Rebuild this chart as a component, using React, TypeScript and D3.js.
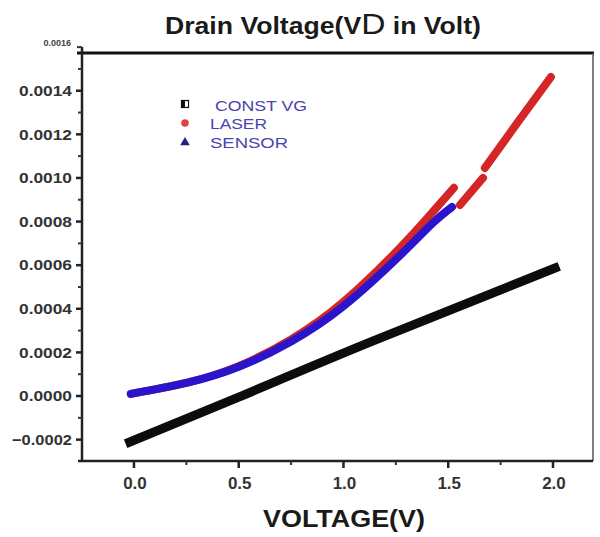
import React from "react";
import * as d3 from "d3";

// ---- data ----
const constVgX = [-0.02, 0.5, 1.13, 2.01];
const constVgY = [-0.000211, -0.000005, 0.000248, 0.000587];

const laserSeg1X = [-0.015, 0.25, 0.5, 0.75, 1.0, 1.27, 1.427, 1.527];
const laserSeg1Y = [0.00001, 0.00006, 0.000137, 0.00026, 0.000432, 0.00068, 0.000845, 0.000955];
const laserSeg2X = [1.556, 1.666];
const laserSeg2Y = [0.000876, 0.001];
const laserSeg3X = [1.675, 1.828, 1.99];
const laserSeg3Y = [0.001046, 0.00125, 0.001463];

const sensorX = [-0.015, 0.25, 0.5, 0.75, 1.0, 1.27, 1.427, 1.518];
const sensorY = [0.00001, 0.00006, 0.000134, 0.00025, 0.000412, 0.000645, 0.000794, 0.000867];

const xMajor = [0, 0.5, 1.0, 1.5, 2.0];
const xMinor = [0.25, 0.75, 1.25, 1.75];
const yMajor = [-0.0002, 0, 0.0002, 0.0004, 0.0006, 0.0008, 0.001, 0.0012, 0.0014];
const yMinor = [-0.0001, 0.0001, 0.0003, 0.0005, 0.0007, 0.0009, 0.0011, 0.0013, 0.0015];
const yTopTick = 0.0016;

const legendLabels = ["CONST VG", "LASER", "SENSOR"];
const titleParts = ["Drain Voltage(V", "D", " in Volt)"];
const xTitle = "VOLTAGE(V)";

const FONT = "'Liberation Sans', Arial, sans-serif";

export default function App() {
  const W = 600, H = 537;
  const left = 82, right = 593, top = 53, bottom = 461;
  const x = d3.scaleLinear().domain([-0.248, 2.191]).range([left, right]);
  const y = d3.scaleLinear().domain([-0.000298, 0.001573]).range([bottom, top]);

  const toPts = (xs: number[], ys: number[]) => xs.map((v, i) => [v, ys[i]] as [number, number]);
  const line = d3
    .line<[number, number]>()
    .x((d) => x(d[0]))
    .y((d) => y(d[1]))
    .curve(d3.curveNatural);

  const fy = d3.format(".4f");
  const fx = d3.format(".1f");

  const red = "#d42626";
  const blue = "#2a14cc";
  const black = "#0c0c0c";

  return (
    <svg
      width={W}
      height={H}
      style={{ position: "absolute", left: 0, top: 0, background: "#fff" }}
      fontFamily={FONT}
    >
      <rect x={0} y={0} width={W} height={H} fill="#fff" />

      {/* title */}
      <text x={165} y={34} fill="#1a1a1a" textLength={316} lengthAdjust="spacingAndGlyphs">
        <tspan fontWeight="bold" fontSize={23}>{titleParts[0]}</tspan>
        <tspan fontSize={29}>{titleParts[1]}</tspan>
        <tspan fontWeight="bold" fontSize={23}>{titleParts[2]}</tspan>
      </text>

      {/* data */}
      <g fill="none">
        <path d={line(toPts(constVgX, constVgY)) || ""} stroke={black} strokeWidth={9} strokeLinecap="square" />
        <path d={line(toPts(laserSeg1X, laserSeg1Y)) || ""} stroke={red} strokeWidth={8} strokeLinecap="round" />
        <path d={line(toPts(laserSeg2X, laserSeg2Y)) || ""} stroke={red} strokeWidth={8} strokeLinecap="round" />
        <path d={line(toPts(laserSeg3X, laserSeg3Y)) || ""} stroke={red} strokeWidth={8} strokeLinecap="round" />
        <path d={line(toPts(sensorX, sensorY)) || ""} stroke={blue} strokeWidth={8} strokeLinecap="round" />
      </g>

      {/* frame */}
      <line x1={77} x2={594} y1={top} y2={top} stroke="#111" strokeWidth={3} />
      <line x1={right} x2={right} y1={top} y2={bottom} stroke="#555" strokeWidth={1.5} />
      <line x1={left} x2={left} y1={y(yTopTick)} y2={bottom + 1} stroke="#222" strokeWidth={2.5} />
      <line x1={78} x2={right} y1={bottom} y2={bottom} stroke="#222" strokeWidth={2.5} />

      {/* y ticks */}
      {yMajor.map((v) => (
        <g key={"ym" + v}>
          <line x1={left - 6} x2={left} y1={y(v)} y2={y(v)} stroke="#222" strokeWidth={2.5} />
          <text
            x={72}
            y={y(v)}
            dy="0.35em"
            textAnchor="end"
            fontSize={15}
            fontWeight="bold"
            fill="#333"
            textLength={fy(v).length > 6 ? 60 : 53}
            lengthAdjust="spacingAndGlyphs"
          >
            {fy(v)}
          </text>
        </g>
      ))}
      {yMinor.map((v) => (
        <line key={"yn" + v} x1={left - 4} x2={left} y1={y(v)} y2={y(v)} stroke="#333" strokeWidth={2} />
      ))}
      <line x1={left - 5} x2={left} y1={y(yTopTick)} y2={y(yTopTick)} stroke="#333" strokeWidth={2} />
      <text x={71} y={y(yTopTick) - 1} textAnchor="end" fontSize={9} fontWeight="bold" fill="#444">
        {fy(yTopTick)}
      </text>

      {/* x ticks */}
      {xMajor.map((v) => (
        <g key={"xm" + v}>
          <line x1={x(v)} x2={x(v)} y1={bottom} y2={bottom + 7} stroke="#222" strokeWidth={2.5} />
          <text x={x(v) + 1} y={489} textAnchor="middle" fontSize={17} fontWeight="bold" fill="#333">
            {fx(v)}
          </text>
        </g>
      ))}
      {xMinor.map((v) => (
        <line key={"xn" + v} x1={x(v)} x2={x(v)} y1={bottom} y2={bottom + 4} stroke="#333" strokeWidth={2} />
      ))}

      {/* x title */}
      <text
        x={263}
        y={527}
        fontSize={24}
        fontWeight="bold"
        fill="#1a1a1a"
        textLength={162}
        lengthAdjust="spacingAndGlyphs"
      >
        {xTitle}
      </text>

      {/* legend */}
      <g>
        <rect x={181.5} y={100.5} width={7} height={7} fill="#fff" stroke="#111" strokeWidth={1.2} />
        <rect x={181.5} y={100.5} width={3.5} height={7} fill="#111" />
        <text x={215} y={111} fontSize={15} fill="#4a44b0" textLength={92} lengthAdjust="spacingAndGlyphs">
          {legendLabels[0]}
        </text>
        <circle cx={185} cy={123} r={3.8} fill={red} opacity={0.85} />
        <text x={210} y={128.5} fontSize={15} fill="#4a44b0" textLength={57} lengthAdjust="spacingAndGlyphs">
          {legendLabels[1]}
        </text>
        <path
          d={d3.symbol().type(d3.symbolTriangle).size(40)() || ""}
          transform="translate(185,142.5)"
          fill="#22228a"
        />
        <text x={210} y={147.5} fontSize={15} fill="#4a44b0" textLength={78} lengthAdjust="spacingAndGlyphs">
          {legendLabels[2]}
        </text>
      </g>
    </svg>
  );
}
